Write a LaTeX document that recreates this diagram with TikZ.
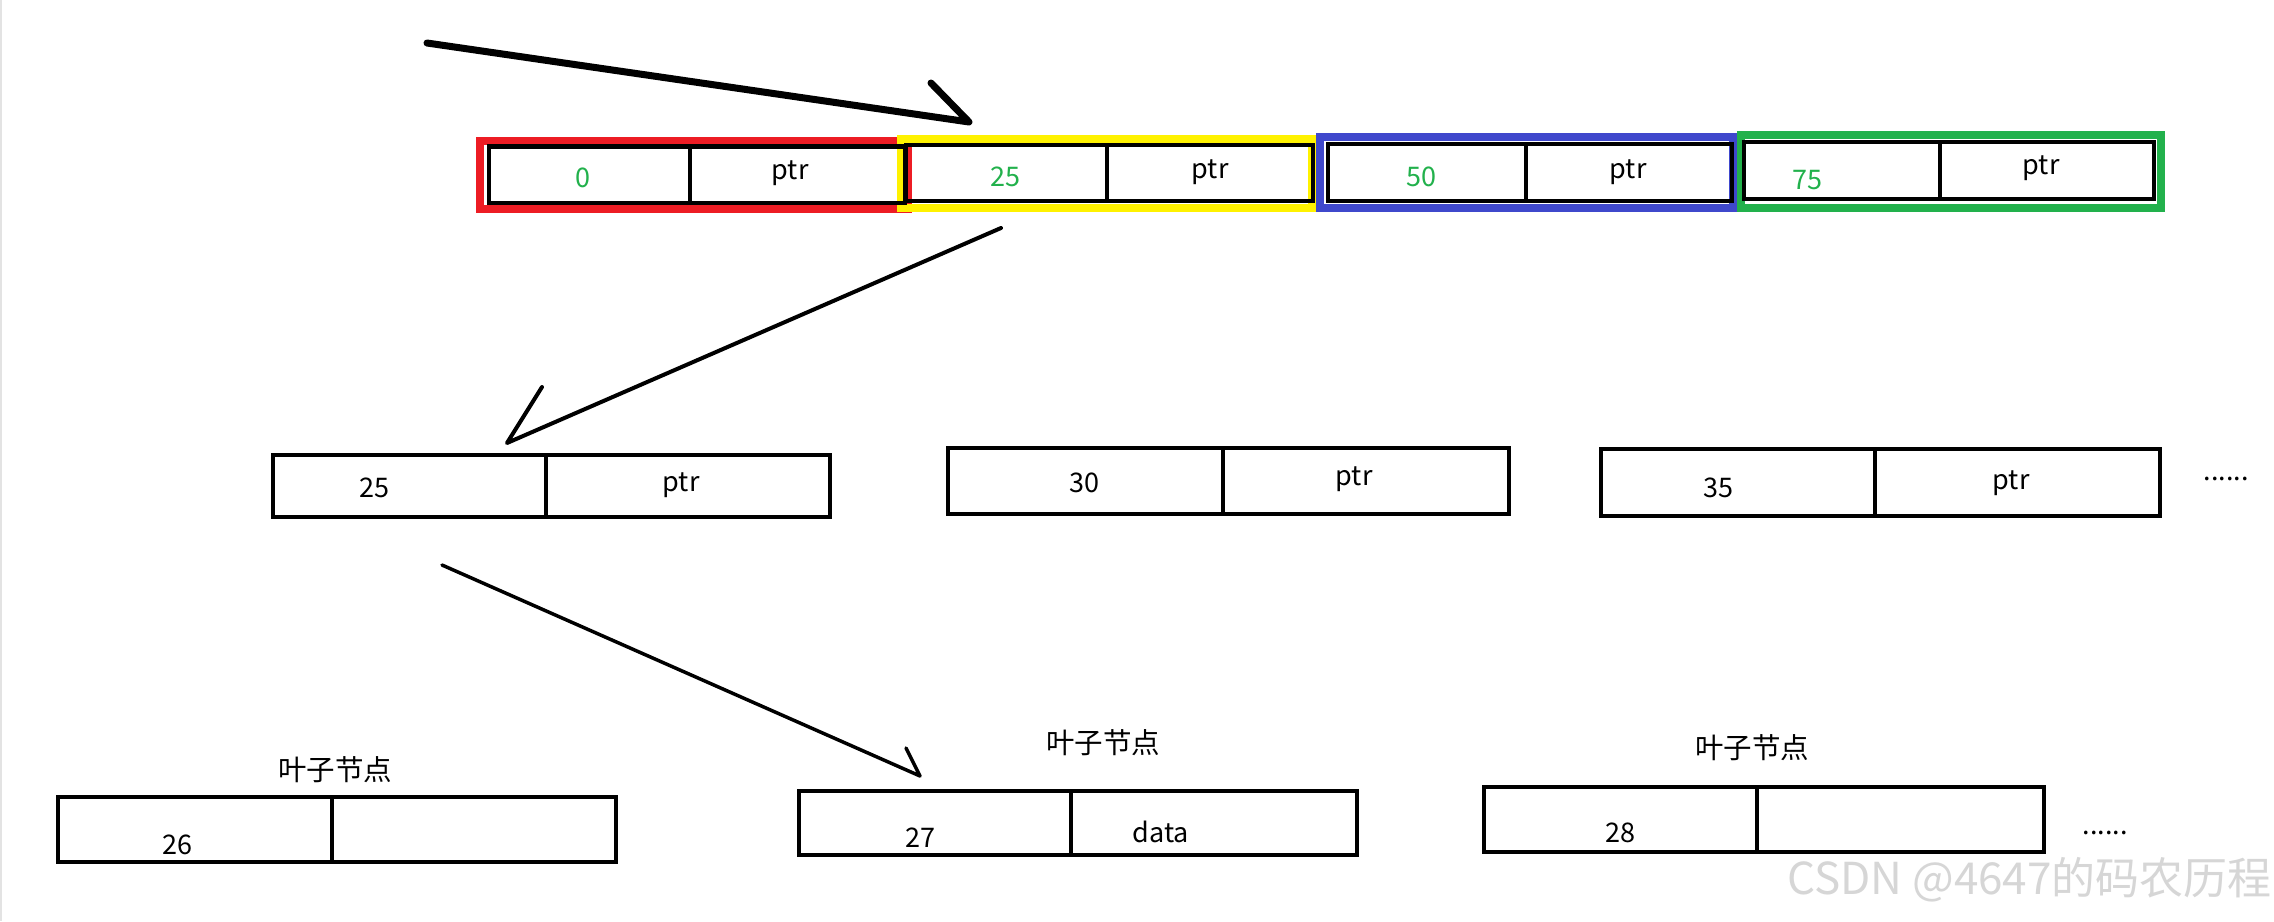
\documentclass[tikz,border=0pt]{standalone}
\usepackage{fontspec}
\setmainfont{Noto Sans CJK SC}
\usetikzlibrary{fit}
\definecolor{pred}{HTML}{ED1C24}
\definecolor{pyellow}{HTML}{FFF200}
\definecolor{pblue}{HTML}{3F48CC}
\definecolor{pgreen}{HTML}{22B14C}
\definecolor{wmgray}{HTML}{D6D6D6}
\tikzset{
  cellbox/.style={draw=black, line width=4.5pt, inner sep=0pt, outer sep=0pt},
  frame/.style={line width=8pt, inner sep=0pt, outer sep=0pt},
  txt/.style={font=\fontsize{27}{30}\selectfont, inner sep=0pt, text=black},
  gtxt/.style={txt, text=pgreen},
  cjk/.style={font=\fontsize{28.5}{31}\selectfont, inner sep=0pt},
  arrowline/.style={line width=#1, line cap=round, line join=round, draw=black},
}
\newcommand\twocell[6]{%
  \node[cellbox, fit={(#2,#3) (#4,#6)}] (#1a) {};
  \node[cellbox, fit={(#4,#3) (#5,#6)}] (#1b) {};}
\begin{document}
\begin{tikzpicture}[x=1pt,y=-1pt]
\useasboundingbox[fill=white] (0,0) rectangle (2274,921);
\draw[gray!22, line width=2pt] (1,0) -- (1,921);

% top row coloured frames
\node[frame, draw=pred,    fit={(480,140.5) (908,208.5)}] (fr1) {};
\node[frame, draw=pyellow, fit={(901,139) (1312,208)}] (fr2) {};
\node[frame, draw=pblue,   fit={(1320,137) (1733,208)}] (fr3) {};
\node[frame, draw=pgreen,  fit={(1741,135) (2161,208)}] (fr4) {};

% top row cells
\twocell{t1}{489}{146.5}{690}{905}{203}
\twocell{t2}{906}{145}{1107}{1313}{201}
\twocell{t3}{1328}{144}{1526}{1732}{201}
\twocell{t4}{1744}{142}{1940}{2154}{199}

\node[gtxt] (k0)  at (583,178) {0};
\node[txt]  (p1)  at (790,173) {ptr};
\node[gtxt] (k25) at (1005,177) {25};
\node[txt]  (p2)  at (1210,172) {ptr};
\node[gtxt] (k50) at (1421,177) {50};
\node[txt]  (p3)  at (1628,172) {ptr};
\node[gtxt] (k75) at (1807,180) {75};
\node[txt]  (p4)  at (2041,168) {ptr};

% middle row
\twocell{m1}{273}{455}{546}{830}{517}
\twocell{m2}{948}{448}{1223}{1509}{514}
\twocell{m3}{1601}{449}{1875}{2160}{516}
\node[txt] (mk1) at (374,488) {25};
\node[txt] (mp1) at (681,485) {ptr};
\node[txt] (mk2) at (1084,483) {30};
\node[txt] (mp2) at (1354,479) {ptr};
\node[txt] (mk3) at (1718,488) {35};
\node[txt] (mp3) at (2011,483) {ptr};
\node[txt] (mdots) at (2226,479) {......};

% leaf row
\twocell{l1}{58}{797}{332}{616}{862}
\twocell{l2}{799}{791}{1071}{1357}{855}
\twocell{l3}{1484}{787}{1757}{2044}{852}
\node[cjk] (lab1) at (335,770) {叶子节点};
\node[cjk] (lab2) at (1103,743) {叶子节点};
\node[cjk] (lab3) at (1752,748) {叶子节点};
\node[txt] (lk1) at (177,845) {26};
\node[txt] (lk2) at (920,838) {27};
\node[txt] (ld2) at (1161,832) {data};
\node[txt] (lk3) at (1620,833) {28};
\node[txt] (ldots) at (2105,833) {......};

% arrows
\coordinate (a1s) at (427,43);
\coordinate (a1e) at (969,122);
\coordinate (a1h) at (931,83);
\draw[arrowline=7pt] (a1s) -- (a1e) -- (a1h);

\coordinate (a2s) at (1001,228);
\coordinate (a2e) at (507,443);
\coordinate (a2h) at (542,387);
\draw[arrowline=4pt] (a2s) -- (a2e) -- (a2h);

\coordinate (a3s) at (442,565);
\coordinate (a3e) at (920,776);
\coordinate (a3h) at (906,748);
\draw[arrowline=3.5pt] (a3s) -- (a3e) -- (a3h);

% watermark
\node[font=\fontsize{44}{48}\selectfont, text=wmgray, anchor=east, inner sep=0pt] (wmk) at (2272,880) {CSDN @4647的码农历程};
\end{tikzpicture}
\end{document}
